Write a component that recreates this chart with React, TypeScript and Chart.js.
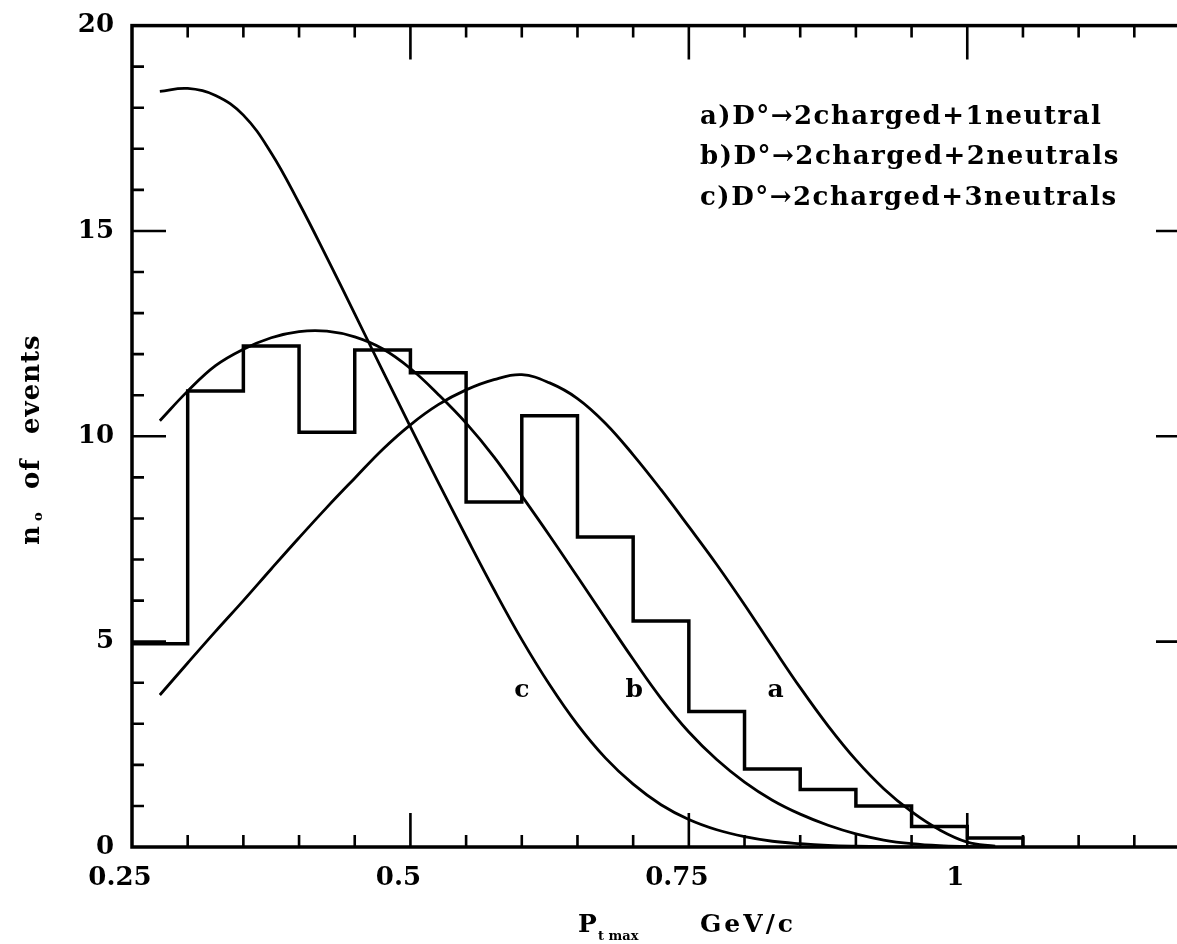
import React, { useEffect, useRef } from 'react';
import { Chart, registerables } from 'chart.js';

Chart.register(...registerables);

const FONT = '"DejaVu Serif", serif';

// x axis ticks (GeV/c)
const xTickValues = [0.25, 0.3, 0.35, 0.4, 0.45, 0.5, 0.55, 0.6, 0.65, 0.7, 0.75, 0.8, 0.85, 0.9, 0.95, 1.0, 1.05, 1.1, 1.15];
const xMajorTicks = [0.5, 0.75, 1.0];
const xTickLabels: Record<number, string> = { 25: '0.25', 50: '0.5', 75: '0.75', 100: '1' };

// y axis ticks
const yTickValues = [0, 5, 10, 15, 20];
const yMinorTicks = [1, 2, 3, 4, 5, 6, 7, 8, 9, 10, 11, 12, 13, 14, 15, 16, 17, 18, 19];

// histogram: bin left edges and counts
const histEdges = [0.25, 0.3, 0.35, 0.4, 0.45, 0.5, 0.55, 0.6, 0.65, 0.7, 0.75, 0.8, 0.85, 0.9, 0.95, 1.0, 1.05];
const histCounts = [4.95, 11.1, 12.2, 10.1, 12.1, 11.55, 8.4, 10.5, 7.55, 5.5, 3.3, 1.9, 1.4, 1.0, 0.5, 0.22, 0];

// fitted curves
const curveX = [0.275, 0.3, 0.325, 0.35, 0.375, 0.4, 0.425, 0.45, 0.475, 0.5, 0.525, 0.55, 0.575, 0.6, 0.625, 0.65, 0.675, 0.7, 0.725, 0.75, 0.775, 0.8, 0.825, 0.85, 0.875, 0.9, 0.925, 0.95, 0.975, 1.0, 1.025];
const curveA = [3.7, 4.48, 5.25, 6.0, 6.77, 7.53, 8.27, 8.98, 9.68, 10.28, 10.77, 11.13, 11.38, 11.5, 11.3, 10.92, 10.32, 9.55, 8.7, 7.8, 6.88, 5.9, 4.88, 3.88, 2.95, 2.12, 1.42, 0.86, 0.42, 0.12, 0.02];
const curveB = [10.38, 11.1, 11.72, 12.12, 12.4, 12.55, 12.56, 12.42, 12.13, 11.65, 11.02, 10.32, 9.5, 8.55, 7.58, 6.58, 5.57, 4.57, 3.62, 2.8, 2.13, 1.58, 1.14, 0.8, 0.53, 0.32, 0.17, 0.08, 0.03, 0.01, 0];
const curveC = [18.4, 18.47, 18.3, 17.82, 16.9, 15.68, 14.35, 12.98, 11.6, 10.23, 8.88, 7.56, 6.27, 5.05, 3.95, 2.98, 2.17, 1.53, 1.03, 0.67, 0.42, 0.25, 0.14, 0.08, 0.04, 0.02, 0.01, 0, 0, 0, 0];

// curve letters placed on the plot
const curveLetters = ['a', 'b', 'c'];
const curveLetterX = [0.828, 0.701, 0.6];
const curveLetterY = [3.8, 3.8, 3.8];

const legendLines = [
  'a)D°→2charged+1neutral',
  'b)D°→2charged+2neutrals',
  'c)D°→2charged+3neutrals',
];

const framePlugin = {
  id: 'framePlugin',
  afterDraw(chart: any) {
    const { ctx, chartArea, scales } = chart;
    const { left, right, top, bottom } = chartArea;
    const xs = scales.x;
    const ys = scales.y;
    ctx.save();
    ctx.strokeStyle = '#000';
    ctx.fillStyle = '#000';
    ctx.lineWidth = 3.5;
    ctx.strokeRect(left, top, right - left, bottom - top);

    ctx.lineWidth = 2.6;
    ctx.beginPath();
    xTickValues.forEach((v) => {
      if (v <= 0.25) return;
      const px = xs.getPixelForValue(v);
      const major = xMajorTicks.some((m) => Math.abs(m - v) < 1e-6);
      const len = major ? 34 : 12;
      ctx.moveTo(px, bottom);
      ctx.lineTo(px, bottom - len);
      ctx.moveTo(px, top);
      ctx.lineTo(px, top + len);
    });
    yMinorTicks.forEach((v) => {
      const py = ys.getPixelForValue(v);
      const len = v % 5 === 0 ? 34 : 12;
      ctx.moveTo(left, py);
      ctx.lineTo(left + len, py);
      ctx.moveTo(right, py);
      ctx.lineTo(right - len, py);
    });
    ctx.stroke();

    // curve letters
    ctx.font = `bold 25px ${FONT}`;
    ctx.textAlign = 'center';
    ctx.textBaseline = 'middle';
    curveLetters.forEach((t, i) => {
      ctx.fillText(t, xs.getPixelForValue(curveLetterX[i]), ys.getPixelForValue(curveLetterY[i]));
    });

    // legend text
    ctx.font = `bold 26px ${FONT}`;
    ctx.textAlign = 'left';
    ctx.textBaseline = 'alphabetic';
    (ctx as any).letterSpacing = '1.5px';
    const legendBase = [124, 164, 205];
    legendLines.forEach((t, i) => {
      ctx.fillText(t, 700, legendBase[i]);
    });

    // x title
    (ctx as any).letterSpacing = '0px';
    ctx.font = `bold 25px ${FONT}`;
    ctx.fillText('P', 578, 932);
    ctx.font = `bold 13px ${FONT}`;
    ctx.fillText('t max', 598, 940);
    ctx.font = `bold 25px ${FONT}`;
    (ctx as any).letterSpacing = '3px';
    ctx.fillText('GeV/c', 700, 932);
    (ctx as any).letterSpacing = '0px';

    // y title (rotated, reading bottom to top)
    ctx.save();
    ctx.translate(39, 545);
    ctx.rotate(-Math.PI / 2);
    ctx.textAlign = 'left';
    ctx.font = `bold 26px ${FONT}`;
    ctx.fillText('n', 0, 0);
    ctx.font = `bold 13px ${FONT}`;
    ctx.fillText('o', 24, 3);
    ctx.font = `bold 26px ${FONT}`;
    (ctx as any).letterSpacing = '1px';
    ctx.fillText('of', 56, 0);
    ctx.fillText('events', 111, 0);
    (ctx as any).letterSpacing = '0px';
    ctx.restore();

    ctx.restore();
  },
};

export default function App() {
  const canvasRef = useRef<HTMLCanvasElement | null>(null);

  useEffect(() => {
    if (!canvasRef.current) return;
    const histPoints = histEdges.map((x, i) => ({ x, y: histCounts[i] }));
    const mk = (ys: number[]) => curveX.map((x, i) => ({ x, y: ys[i] }));
    const curveStyle = {
      borderColor: '#000',
      borderWidth: 2.8,
      pointRadius: 0,
      fill: false,
      tension: 0.4,
    };
    const chart = new Chart(canvasRef.current, {
      type: 'line',
      data: {
        datasets: [
          {
            label: 'histogram',
            data: histPoints,
            stepped: true,
            borderColor: '#000',
            borderWidth: 3.5,
            pointRadius: 0,
            fill: false,
          },
          { label: 'a', data: mk(curveA), ...curveStyle },
          { label: 'b', data: mk(curveB), ...curveStyle },
          { label: 'c', data: mk(curveC), ...curveStyle },
        ],
      },
      options: {
        animation: false,
        responsive: false,
        devicePixelRatio: 1,
        layout: { padding: { top: 23, right: 5, left: 0, bottom: 0 } },
        plugins: { legend: { display: false }, tooltip: { enabled: false } },
        scales: {
          x: {
            type: 'linear',
            min: 0.25,
            max: 1.2,
            afterBuildTicks: (s: any) => {
              s.ticks = xTickValues.map((v) => ({ value: v }));
            },
            afterFit: (s: any) => {
              s.height = 97;
            },
            grid: { display: false },
            border: { display: false },
            ticks: {
              autoSkip: false,
              maxRotation: 0,
              minRotation: 0,
              labelOffset: -12,
              padding: 8,
              color: '#000',
              font: { family: FONT, size: 26, weight: 'bold' },
              callback: (v: any) => xTickLabels[Math.round(Number(v) * 100)] ?? '',
            },
          },
          y: {
            type: 'linear',
            min: 0,
            max: 20,
            afterBuildTicks: (s: any) => {
              s.ticks = yTickValues.map((v) => ({ value: v }));
            },
            afterFit: (s: any) => {
              s.width = 132;
            },
            grid: { display: false },
            border: { display: false },
            ticks: {
              padding: 10,
              color: '#000',
              font: { family: FONT, size: 26, weight: 'bold' },
              callback: (v: any) => String(v),
            },
          },
        },
      },
      plugins: [framePlugin],
    });
    return () => chart.destroy();
  }, []);

  return (
    <div style={{ position: 'absolute', left: 0, top: 0, width: 1177, height: 944, overflow: 'hidden', background: '#fff' }}>
      <canvas ref={canvasRef} width={1195} height={944} style={{ display: 'block' }} />
    </div>
  );
}
